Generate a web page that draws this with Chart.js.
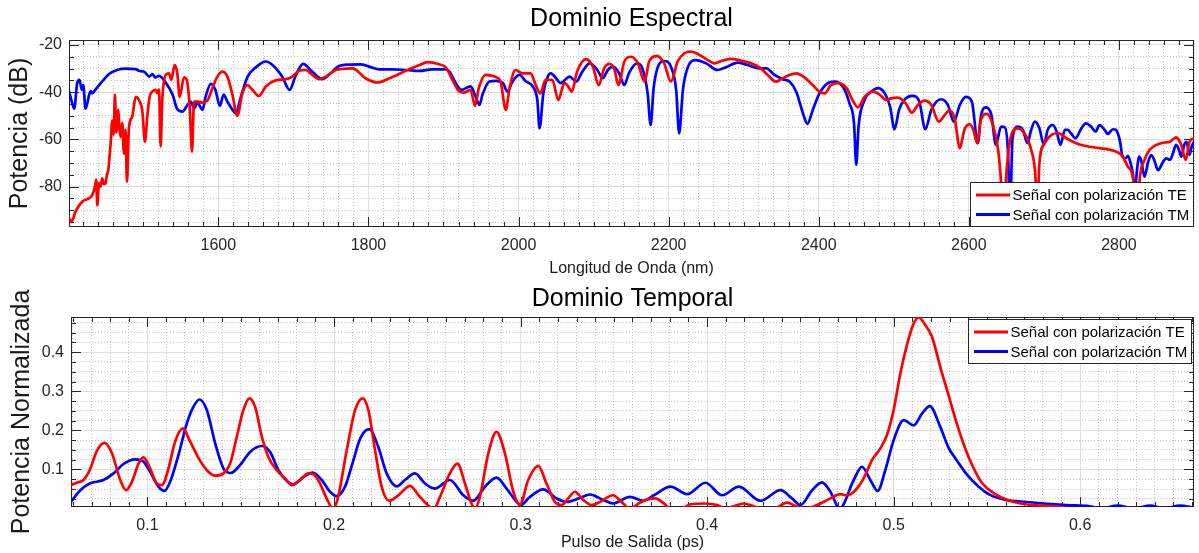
<!DOCTYPE html>
<html><head><meta charset="utf-8">
<script src="https://cdn.jsdelivr.net/npm/chart.js@4.4.1/dist/chart.umd.min.js"></script>
<style>
html,body{margin:0;padding:0;background:#fff;}
#wrap{position:relative;width:1199px;height:553px;overflow:hidden;background:#fff;}
canvas{position:absolute;left:0;}
</style></head><body>
<div id="wrap">
<canvas id="spec" width="1199" height="280" style="top:0"></canvas>
<canvas id="temp" width="1199" height="273" style="top:280px"></canvas>
</div>
<script>
// ---------- DATA ----------
const seriesLabels = ['Señal con polarización TE', 'Señal con polarización TM'];

// Spectral domain: [wavelength nm, power dB]
const teSpectrum = [[1400,-92.7],[1404.4,-94.8],[1409.8,-90.5],[1418.7,-86.3],[1427.6,-85],[1432,-83.5],[1435.6,-80],[1437.3,-77],[1438.7,-88],[1440.9,-78.5],[1443,-80],[1445.3,-76.5],[1447.5,-79],[1449.8,-78.5],[1451.5,-75],[1453.3,-73],[1456.4,-62],[1458.7,-52],[1460.5,-58],[1462.2,-41],[1464,-57],[1466.7,-47.5],[1468.2,-55],[1469.8,-59],[1472,-53],[1474.2,-66],[1476.4,-56],[1478.2,-78],[1480.9,-55],[1485.3,-50.3],[1489.8,-42],[1494.2,-43.3],[1498.7,-48],[1502.2,-61],[1505.3,-50.3],[1508.4,-42],[1512,-39.8],[1516.4,-39],[1518.7,-40.4],[1520.9,-38.8],[1523.1,-63],[1525.3,-43.3],[1529.8,-32.7],[1534.2,-32],[1537.3,-34.8],[1541.8,-28.5],[1545.3,-32],[1548.4,-42],[1554.2,-33.7],[1557.8,-34.8],[1561.8,-46],[1564.9,-65.2],[1567.6,-44],[1572,-44],[1578.7,-44.4],[1585.3,-43.6],[1592,-38.3],[1598.7,-33.4],[1605.3,-31.3],[1612,-33.4],[1618.7,-41],[1625.3,-50],[1632,-40.5],[1638.7,-37],[1645.3,-39],[1654.2,-41.6],[1663.1,-37.6],[1676.4,-35],[1689.8,-34.5],[1698.7,-33.4],[1707.5,-30.9],[1716.4,-30.6],[1725.3,-32.7],[1734.2,-34.5],[1743.1,-33.4],[1756.4,-30.6],[1761,-30.3],[1779,-29.9],[1796,-34.1],[1812,-35.9],[1828,-34.1],[1850,-30.9],[1868,-28.5],[1879,-27.3],[1894,-28.2],[1903,-29.5],[1912,-34.8],[1921,-39.8],[1927,-40.2],[1936,-39],[1942,-45.8],[1947,-38.3],[1956,-32.7],[1968,-33.4],[1976,-35.5],[1983,-47.5],[1988,-38.3],[1996,-30.6],[2005,-32],[2016,-32],[2023,-37],[2029,-40.5],[2036,-34.8],[2045,-34.8],[2053,-43.3],[2061,-36.2],[2065,-37],[2071,-39.8],[2078,-31.3],[2090,-26],[2099,-29.2],[2107,-37],[2114,-29.9],[2121,-28],[2128,-30.6],[2133,-37],[2141,-27],[2150,-25],[2159,-27.8],[2168,-35.5],[2174,-27],[2185,-24.7],[2194,-27.8],[2203,-35.5],[2212,-27],[2221,-23.5],[2230,-22.8],[2241,-24.2],[2252,-26.4],[2261,-27.8],[2272,-26.6],[2283,-25.9],[2296,-26.6],[2310,-27.8],[2321,-29.5],[2332,-32.7],[2343,-35.5],[2352,-34.1],[2361,-32.7],[2370,-32],[2381,-33.7],[2392,-37],[2401,-39.8],[2408,-40.5],[2416,-37],[2425,-36.2],[2437,-38.3],[2445,-43.3],[2452,-46.4],[2461,-42],[2472,-39.8],[2481,-41],[2490,-43.3],[2496,-42.6],[2505,-42.3],[2516,-44.7],[2524,-48.7],[2532,-45.4],[2541,-43.6],[2550,-45.4],[2560,-52.5],[2568,-49.6],[2574,-47.8],[2581,-51],[2588,-63.7],[2594,-56],[2601,-53.5],[2606,-56],[2611,-61.6],[2616,-51.8],[2624,-49.2],[2632,-53.9],[2639,-64.4],[2643,-78.6],[2646,-97],[2650,-74.4],[2656,-58.8],[2665,-55.3],[2674,-57.4],[2683,-64.4],[2689,-77.2],[2691,-95],[2694,-70],[2701,-61.6],[2710,-58.1],[2719,-57.4],[2730,-59.5],[2743,-61.6],[2756,-62.8],[2774,-63.7],[2788,-64.4],[2799,-65.6],[2805,-67.3],[2812,-71.6],[2819,-77.2],[2823,-99],[2828,-75.8],[2834,-68.7],[2841,-64.4],[2850,-62.3],[2859,-61.4],[2868,-61],[2876,-59.1],[2883,-62.3],[2889,-68.7],[2894,-61],[2900,-59.5]];

const tmSpectrum = [[1400,-38.4],[1403,-42],[1408,-47],[1412,-36],[1415,-34.8],[1418,-39],[1420,-37],[1423,-47],[1428,-41],[1430,-39.5],[1432,-40.5],[1436,-39],[1445,-35.5],[1454,-32.4],[1465,-30.6],[1476,-30],[1490,-30.2],[1494,-30.9],[1501,-31.3],[1508,-33.4],[1512,-32.3],[1516,-33.8],[1521,-33.1],[1530,-36],[1539,-41],[1545,-47],[1552,-48.2],[1559,-45.4],[1563,-44],[1568,-46.8],[1572,-44.4],[1579,-47.5],[1583,-42],[1590,-36.5],[1596,-39],[1602,-45.8],[1607,-41],[1612,-44],[1619,-47.5],[1623,-49],[1630,-42],[1639,-33.4],[1650,-29.5],[1663,-27],[1674,-29],[1685,-33.4],[1695,-39],[1703,-33],[1713,-28],[1725,-31.3],[1739,-34.5],[1748,-32.4],[1761,-28.9],[1774,-28.3],[1790,-28.2],[1805,-29.6],[1814,-30.3],[1832,-30.3],[1850,-30.6],[1868,-31],[1885,-30.3],[1903,-30.3],[1908,-31.3],[1916,-36],[1924,-39],[1936,-37.5],[1943,-42],[1948,-45.4],[1952,-41],[1961,-35.5],[1970,-35.2],[1979,-36],[1985,-39.8],[1992,-35.5],[2001,-32.7],[2010,-35.5],[2019,-37.6],[2025,-43.3],[2028,-55.3],[2033,-40.5],[2039,-33.4],[2043,-32],[2050,-34.1],[2056,-36.2],[2068,-33.4],[2077,-35.5],[2085,-31.3],[2095,-27.8],[2105,-30.6],[2112,-34.1],[2119,-30.6],[2126,-29.2],[2134,-32],[2141,-37],[2147,-32],[2158,-27.8],[2165,-29.9],[2172,-40.5],[2176,-53.9],[2180,-38.3],[2185,-29.9],[2194,-26.8],[2203,-29.2],[2210,-39],[2214,-57.4],[2219,-39],[2225,-29.9],[2236,-26.4],[2250,-27.8],[2265,-30.6],[2276,-29.5],[2292,-27.5],[2305,-28.5],[2321,-29.9],[2330,-29.9],[2341,-32.7],[2352,-34.5],[2361,-35.5],[2370,-39.8],[2379,-49],[2385,-53.4],[2392,-47.5],[2401,-40.5],[2412,-36.2],[2421,-35.5],[2432,-37.6],[2441,-44.7],[2447,-53.2],[2450,-70.8],[2453,-54.6],[2461,-43.3],[2470,-39.8],[2479,-38.3],[2488,-40.5],[2495,-46.1],[2501,-55.7],[2507,-47.5],[2514,-43.3],[2525,-41.6],[2534,-44],[2542,-55.7],[2550,-47.5],[2563,-43],[2572,-45.4],[2580,-52.5],[2588,-45.4],[2596,-42],[2604,-44],[2612,-61.6],[2616,-50.3],[2623,-46.4],[2630,-49.6],[2636,-62.3],[2643,-54.6],[2648,-54.9],[2652,-64.4],[2655,-92],[2658,-60.2],[2665,-54.6],[2672,-56],[2678,-61.6],[2683,-56],[2688,-52.5],[2694,-55.3],[2700,-62.3],[2705,-56],[2712,-53.9],[2717,-56.7],[2722,-62.3],[2728,-56],[2732,-56],[2736,-57.4],[2742,-59.5],[2750,-55.3],[2756,-53.2],[2763,-54.6],[2769,-56.7],[2774,-53.9],[2781,-56],[2785,-57.7],[2792,-55.7],[2796,-56],[2801,-60.2],[2805,-67.3],[2809,-68],[2812,-67],[2815,-69.4],[2819,-75.8],[2821,-84],[2824,-73],[2827,-67.3],[2830,-69.4],[2834,-75.8],[2839,-69.4],[2843,-66.6],[2847,-68.7],[2852,-73],[2859,-69.4],[2863,-68],[2868,-68.7],[2872,-65.9],[2876,-62.3],[2880,-64.4],[2883,-67.3],[2887,-62.3],[2890,-61],[2894,-66.6],[2897,-63],[2900,-61]];

// Temporal domain: [time ps, normalized power]
const tePulse = [[0.059,0.060],[0.062,0.066],[0.0657,0.073],[0.069,0.098],[0.073,0.149],[0.077,0.168],[0.081,0.141],[0.0854,0.073],[0.0886,0.047],[0.0916,0.068],[0.0952,0.115],[0.0979,0.131],[0.101,0.107],[0.105,0.064],[0.1077,0.060],[0.111,0.098],[0.1148,0.171],[0.119,0.205],[0.1229,0.171],[0.128,0.124],[0.1327,0.094],[0.1363,0.084],[0.1407,0.090],[0.1443,0.115],[0.1479,0.184],[0.1514,0.252],[0.1546,0.282],[0.1577,0.260],[0.1613,0.184],[0.1648,0.132],[0.1693,0.098],[0.1738,0.077],[0.1773,0.060],[0.1818,0.073],[0.1862,0.090],[0.189,0.088],[0.1925,0.064],[0.196,0.026],[0.1995,0.000],[0.2018,0.022],[0.2068,0.149],[0.2113,0.252],[0.2154,0.282],[0.2184,0.252],[0.222,0.149],[0.2255,0.056],[0.2296,0.020],[0.2345,0.034],[0.2407,0.058],[0.246,0.030],[0.2536,0.000],[0.2568,0.030],[0.2621,0.090],[0.2662,0.115],[0.2702,0.064],[0.2737,0.013],[0.2755,0.000],[0.2782,0.030],[0.2827,0.141],[0.2871,0.196],[0.2916,0.141],[0.2961,0.043],[0.2996,0.009],[0.3041,0.073],[0.3095,0.109],[0.3139,0.064],[0.3184,0.017],[0.322,0.009],[0.3255,0.026],[0.3291,0.043],[0.3336,0.022],[0.338,0.009],[0.3425,0.017],[0.3496,0.034],[0.3541,0.017],[0.3586,0.000],[0.3639,0.015],[0.3679,0.023],[0.3723,0.026],[0.3768,0.013],[0.3804,0.000],[0.386,0.000],[0.3911,0.011],[0.3982,0.013],[0.4054,0.009],[0.4098,0.000],[0.4134,0.0045],[0.4196,0.013],[0.425,0.006],[0.4286,0.000],[0.4357,0.000],[0.4429,0.015],[0.4482,0.005],[0.4527,0.000],[0.4589,0.009],[0.4661,0.026],[0.4714,0.037],[0.475,0.034],[0.4795,0.047],[0.4839,0.077],[0.4884,0.124],[0.4929,0.154],[0.4964,0.188],[0.5,0.252],[0.5036,0.346],[0.5071,0.418],[0.5107,0.473],[0.5134,0.489],[0.517,0.469],[0.5205,0.44],[0.525,0.362],[0.5292,0.294],[0.5333,0.226],[0.5374,0.166],[0.5425,0.107],[0.5476,0.064],[0.5538,0.039],[0.56,0.024],[0.5682,0.013],[0.5784,0.0075],[0.5887,0.0045],[0.596,0.0005],[0.61,0.0005],[0.63,0.0005],[0.65,0.0005],[0.661,0.0005]];

const tmPulse = [[0.059,0.017],[0.064,0.047],[0.069,0.064],[0.0764,0.073],[0.0818,0.090],[0.0871,0.114],[0.0934,0.126],[0.0979,0.120],[0.1014,0.094],[0.1059,0.056],[0.109,0.045],[0.1121,0.068],[0.1166,0.137],[0.1211,0.218],[0.1246,0.260],[0.1279,0.279],[0.1318,0.252],[0.1363,0.167],[0.1407,0.103],[0.1446,0.091],[0.1496,0.111],[0.155,0.145],[0.1613,0.160],[0.1657,0.145],[0.1702,0.098],[0.1746,0.071],[0.1782,0.062],[0.1836,0.081],[0.1886,0.092],[0.1934,0.073],[0.1979,0.043],[0.2014,0.032],[0.2059,0.056],[0.2104,0.124],[0.214,0.179],[0.2189,0.203],[0.2237,0.158],[0.2282,0.090],[0.2336,0.057],[0.238,0.073],[0.2434,0.090],[0.2488,0.064],[0.2541,0.051],[0.2621,0.073],[0.2693,0.034],[0.2746,0.020],[0.2809,0.056],[0.2871,0.079],[0.2925,0.051],[0.2979,0.017],[0.3,0.009],[0.305,0.030],[0.3121,0.049],[0.3193,0.026],[0.3246,0.017],[0.3318,0.027],[0.3371,0.036],[0.3443,0.022],[0.3496,0.013],[0.3586,0.030],[0.3657,0.020],[0.3714,0.034],[0.3804,0.056],[0.3893,0.037],[0.3991,0.066],[0.408,0.034],[0.417,0.056],[0.4286,0.020],[0.4393,0.047],[0.4455,0.026],[0.45,0.009],[0.4563,0.047],[0.4616,0.067],[0.4661,0.043],[0.471,0.000],[0.4786,0.073],[0.483,0.107],[0.4875,0.073],[0.4914,0.045],[0.4955,0.098],[0.5,0.175],[0.5054,0.226],[0.5107,0.213],[0.5152,0.243],[0.5193,0.262],[0.525,0.209],[0.5292,0.158],[0.5343,0.120],[0.5394,0.086],[0.5456,0.056],[0.5517,0.035],[0.56,0.022],[0.5682,0.018],[0.5805,0.013],[0.5928,0.009],[0.6051,0.006],[0.611,0.0005],[0.620,0.0075],[0.629,0.0005],[0.6375,0.0075],[0.645,0.0005],[0.6535,0.0075],[0.661,0.002]];

// Tick labels
const specXTicks = [1600, 1800, 2000, 2200, 2400, 2600, 2800];
const specYTicks = [-80, -60, -40, -20];
const tempXTicks = [0.1, 0.2, 0.3, 0.4, 0.5, 0.6];
const tempYTicks = [0.1, 0.2, 0.3, 0.4];

// ---------- STYLE ----------
const FONT = '"Liberation Sans", Arial, Helvetica, sans-serif';
const AXIS = '#262626';
const MAJOR_GRID = '#dfdfdf';
const MINOR_GRID = '#c4c4c4';
const RED = '#ff0000', BLUE = '#0000ff';

const toPts = arr => arr.map(p => ({x: p[0], y: p[1]}));

const framePlugin = {
  id: 'frame',
  beforeDatasetsDraw(chart) {
    const {ctx, chartArea: a, scales} = chart;
    ctx.save();
    ctx.strokeStyle = AXIS; ctx.lineWidth = 1;
    ctx.beginPath();
    const marks = (scale, len, horiz) => {
      scale.ticks.forEach(t => {
        const p = Math.round(scale.getPixelForValue(t.value)) + 0.5;
        if (horiz) {
          if (p < a.left || p > a.right) return;
          ctx.moveTo(p, a.bottom); ctx.lineTo(p, a.bottom - len);
          ctx.moveTo(p, a.top); ctx.lineTo(p, a.top + len);
        } else {
          if (p < a.top || p > a.bottom) return;
          ctx.moveTo(a.left, p); ctx.lineTo(a.left + len, p);
          ctx.moveTo(a.right, p); ctx.lineTo(a.right - len, p);
        }
      });
    };
    marks(scales.xm, 5, true); marks(scales.x, 10, true);
    marks(scales.ym, 5, false); marks(scales.y, 10, false);
    ctx.stroke();
    ctx.strokeRect(Math.round(a.left) + 0.5, Math.round(a.top) + 0.5,
                   Math.round(a.right - a.left) - 1, Math.round(a.bottom - a.top) - 1);
    ctx.restore();
  },
  afterDatasetsDraw(chart, args, opts) {
    const {ctx, chartArea: a} = chart;
    ctx.save();
    ctx.font = '15px ' + FONT;
    const ds = chart.data.datasets;
    const tw = Math.max(...ds.map(d => ctx.measureText(d.label).width));
    const w = Math.round(43 + tw + 4), h = 45;
    const x = Math.round(a.right - w - opts.inset);
    const y = opts.corner === 'top' ? Math.round(a.top + opts.inset) : Math.round(a.bottom - h - opts.inset);
    ctx.fillStyle = '#fff';
    ctx.fillRect(x, y, w, h);
    ctx.strokeStyle = AXIS; ctx.lineWidth = 1;
    ctx.strokeRect(x + 0.5, y + 0.5, w - 1, h - 1);
    ds.forEach((d, i) => {
      const cy = y + 13 + i * 19.5;
      ctx.strokeStyle = d.borderColor; ctx.lineWidth = 3;
      ctx.beginPath(); ctx.moveTo(x + 6, cy); ctx.lineTo(x + 40, cy); ctx.stroke();
      ctx.fillStyle = '#000'; ctx.textBaseline = 'middle'; ctx.textAlign = 'left';
      ctx.fillText(d.label, x + 42.5, cy + 1);
    });
    ctx.restore();
  }
};

function lineDs(label, pts, color) {
  return {label, data: toPts(pts), borderColor: color, backgroundColor: color,
          borderWidth: 2.7, pointRadius: 0, fill: false, clip: 0,
          cubicInterpolationMode: 'monotone'};
}

function buildScales(cfg) {
  const minorGrid = (step, majors) => (c) => {
    const v = c.tick ? c.tick.value : null;
    if (v === null) return MINOR_GRID;
    return majors.some(m => Math.abs(m - v) < step * 1e-3) ? 'rgba(0,0,0,0)' : MINOR_GRID;
  };
  return {
    x: {type: 'linear', position: 'bottom', min: cfg.xmin, max: cfg.xmax,
        afterBuildTicks: s => { s.ticks = cfg.xTicks.map(v => ({value: v})); },
        ticks: {autoSkip: false, maxRotation: 0, color: AXIS, padding: cfg.xTickPad,
                font: {family: FONT, size: 16}, callback: v => String(v)},
        grid: {color: MAJOR_GRID, lineWidth: 1, drawTicks: false},
        border: {display: false},
        title: {display: true, text: cfg.xTitle, color: '#1a1a1a',
                font: {family: FONT, size: 16}, padding: {top: 0, bottom: cfg.xTitlePad}},
        afterFit: s => { s.height = cfg.xAxisH; }},
    xm: {type: 'linear', position: 'bottom', min: cfg.xmin, max: cfg.xmax,
         ticks: {display: false, stepSize: cfg.xMinor, maxTicksLimit: 1000, includeBounds: false, autoSkip: false},
         grid: {color: minorGrid(cfg.xMinor, cfg.xTicks), lineWidth: 1, drawTicks: false},
         border: {display: false, dash: [1, 2]},
         afterFit: s => { s.height = 0; }},
    y: {type: 'linear', position: 'left', min: cfg.ymin, max: cfg.ymax,
        afterBuildTicks: s => { s.ticks = cfg.yTicks.map(v => ({value: v})); },
        ticks: {autoSkip: false, color: AXIS, padding: 7,
                font: {family: FONT, size: 16}, callback: v => String(v)},
        grid: {color: MAJOR_GRID, lineWidth: 1, drawTicks: false},
        border: {display: false},
        title: {display: true, text: cfg.yTitle, color: '#1a1a1a',
                font: {family: FONT, size: 25}, padding: {top: cfg.yTitlePad, bottom: 0}},
        afterFit: s => { s.width = cfg.yAxisW; }},
    ym: {type: 'linear', position: 'left', min: cfg.ymin, max: cfg.ymax,
         ticks: {display: false, stepSize: cfg.yMinor, maxTicksLimit: 1000, includeBounds: false, autoSkip: false},
         grid: {color: minorGrid(cfg.yMinor, cfg.yTicks), lineWidth: 1, drawTicks: false},
         border: {display: false, dash: [1, 2]},
         afterFit: s => { s.width = 0; }}
  };
}

function makeChart(id, cfg) {
  return new Chart(document.getElementById(id), {
    type: 'line',
    data: {datasets: [lineDs(seriesLabels[0], cfg.te, RED), lineDs(seriesLabels[1], cfg.tm, BLUE)]},
    options: {
      responsive: false, animation: false, devicePixelRatio: 1,
      layout: {padding: {left: 0, right: 5, top: 0, bottom: 0}, autoPadding: false},
      plugins: {
        legend: {display: false}, tooltip: {enabled: false},
        title: {display: true, text: cfg.title, fullSize: false, color: '#000',
                font: {family: FONT, size: 25, weight: 'normal'},
                padding: {top: cfg.titleTop, bottom: cfg.titleBottom}},
        frame: {corner: cfg.legendCorner, inset: cfg.legendInset}
      },
      scales: buildScales(cfg)
    },
    plugins: [framePlugin]
  });
}

makeChart('spec', {
  te: teSpectrum, tm: tmSpectrum, title: 'Dominio Espectral',
  titleTop: 4, titleBottom: 6,
  xmin: 1401, xmax: 2900, xTicks: specXTicks, xMinor: 20,
  ymin: -97.1, ymax: -17.9, yTicks: specYTicks, yMinor: 5,
  xTitle: 'Longitud de Onda (nm)', yTitle: 'Potencia (dB)',
  xAxisH: 53, yAxisW: 69, xTickPad: 9, xTitlePad: 2, yTitlePad: 5,
  legendCorner: 'bottom', legendInset: 0
});

makeChart('temp', {
  te: tePulse, tm: tmPulse, title: 'Dominio Temporal',
  titleTop: 4, titleBottom: 3,
  xmin: 0.059, xmax: 0.661, xTicks: tempXTicks, xMinor: 0.01,
  ymin: 0.004, ymax: 0.490, yTicks: tempYTicks, yMinor: 0.025,
  xTitle: 'Pulso de Salida (ps)', yTitle: 'Potencia Normalizada',
  xAxisH: 46, yAxisW: 71, xTickPad: 9, xTitlePad: 1, yTitlePad: 7,
  legendCorner: 'top', legendInset: 2
});
</script>
</body></html>
